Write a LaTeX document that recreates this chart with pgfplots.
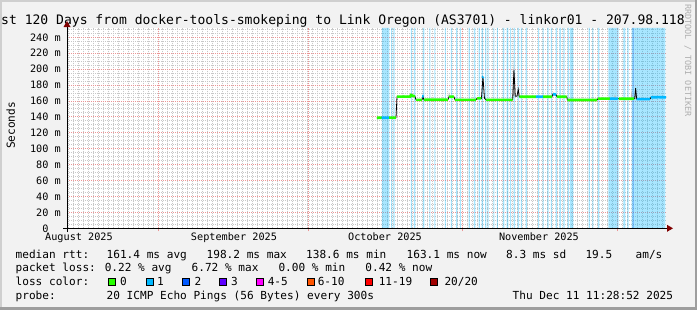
\documentclass[border=0pt]{standalone}
\usepackage{pgfplots}
\pgfplotsset{compat=1.18}
\usepackage{fontspec}
\setmainfont{DejaVu Sans Mono}
\setmonofont{DejaVu Sans Mono}
\definecolor{bgc}{RGB}{242,242,242}
\definecolor{shadea}{RGB}{207,207,207}
\definecolor{shadeb}{RGB}{158,158,158}
\definecolor{lossz}{RGB}{38,255,0}
\definecolor{lossa}{RGB}{0,184,255}
\definecolor{lossb}{RGB}{0,89,255}
\definecolor{lossc}{RGB}{94,0,255}
\definecolor{lossd}{RGB}{255,0,255}
\definecolor{losse}{RGB}{255,85,0}
\definecolor{lossf}{RGB}{255,0,0}
\definecolor{lossg}{RGB}{160,0,0}
\definecolor{mgridc}{RGB}{236,150,150}
\definecolor{gridc}{RGB}{200,200,200}
\definecolor{arrowc}{RGB}{128,0,0}
\definecolor{smoke}{RGB}{185,185,185}
\definecolor{wm}{RGB}{175,175,175}
\newcommand{\lf}{\fontsize{11.1bp}{13bp}\selectfont}
\newcommand{\af}{\fontsize{10.2bp}{12bp}\selectfont}
\newcommand{\tf}{\fontsize{13.05bp}{15bp}\selectfont}
\newcommand{\wf}{\fontsize{8.5bp}{10bp}\selectfont}
\begin{document}
\begin{tikzpicture}
\fill[bgc] (0,0) rectangle (697bp,-310bp);
\fill[shadea] (0,0) rectangle (697bp,-2bp);
\fill[shadea] (0,0) rectangle (2bp,-310bp);
\fill[shadeb] (0,-307bp) rectangle (697bp,-310bp);
\fill[shadeb] (695bp,0) rectangle (697bp,-310bp);
\begin{axis}[
  at={(67bp,-228.3bp)}, anchor=south west,
  scale only axis, width=599bp, height=200.5bp,
  xmin=0, xmax=120, ymin=0, ymax=252,
  axis background/.style={fill=white},
  axis line style={draw=none},
  tick pos=left,
  major tick length=0pt, minor tick length=0pt,
  xtick={2.40,33.45,63.70,94.55},
  xticklabels={August 2025,September 2025,October 2025,November 2025},
  extra x ticks={18.23,48.28,79.33,110.38},
  extra x tick labels={},
  extra x tick style={grid=major, major tick length=3bp, tick align=outside, tick style={mgridc, line width=1bp}},
  minor xtick={0.23,1.23,...,119.23},
  xminorgrids,
  ytick={0,20,...,240},
  yticklabels={0\phantom{mm},20 m,40 m,60 m,80 m,100 m,120 m,140 m,160 m,180 m,200 m,220 m,240 m},
  minor ytick={5,10,...,250},
  ymajorgrids, yminorgrids,
  major grid style={mgridc, line width=1bp, dash pattern=on 1bp off 1bp},
  minor grid style={gridc, line width=1bp, dash pattern=on 1bp off 1bp},
  yticklabel style={font=\af, anchor=east, inner sep=0pt, xshift=-6bp},
  xticklabel style={font=\af, anchor=base, inner sep=0pt, yshift=-12.2bp},
]
% loss bands (1 of 20 lost)
\addplot[const plot, draw=none, fill=lossa, fill opacity=0.34] coordinates {
(60,0)(63.10,252)(64.57,0)(64.91,252)(65.11,0)(65.37,252)(65.65,0)
(68.91,252)(69.11,0)(69.51,252)(69.78,0)(71.31,252)(71.58,0)
(72.58,252)(72.78,0)(73.62,252)(73.82,0)(75.72,252)(75.92,0)
(76.90,252)(77.10,0)(77.93,252)(78.19,0)(78.73,252)(78.93,0)
(80.47,252)(80.73,0)(81.53,252)(81.79,0)(82.47,252)(82.73,0)
(83.08,252)(83.34,0)(83.74,252)(84.00,0)(84.28,252)(84.48,0)
(85.44,252)(85.64,0)(86.14,252)(86.34,0)(87.34,252)(87.60,0)
(88.08,252)(88.40,0)(88.78,252)(88.98,0)(89.49,252)(89.75,0)
(90.29,252)(90.55,0)(90.95,252)(91.15,0)(91.89,252)(92.15,0)
(94.36,252)(94.56,0)(95.30,252)(95.50,0)(96.22,252)(96.50,0)
(96.96,252)(97.16,0)(97.90,252)(98.16,0)(98.62,252)(98.96,0)
(99.42,252)(99.70,0)(100.30,252)(100.56,0)(100.76,252)(101.42,0)
(104.51,252)(104.77,0)(105.23,252)(105.43,0)(106.37,252)(106.63,0)
(108.44,252)(110.52,0)(111.44,252)(111.84,0)(112.24,252)(112.52,0)
(113.12,252)(119.86,0)(120,0)} \closedcycle;
% loss band (2 of 20 lost)
\addplot[const plot, draw=none, fill=lossb, fill opacity=0.25] coordinates {(113.32,252)(113.58,0)} \closedcycle;
% smoke
\addplot[draw=none, fill=smoke, unbounded coords=jump] coordinates {
(76.40,165.4)(76.52,171.6)(76.70,165.4)(76.7,nan)
(89.30,165.0)(89.54,211.5)(89.80,168.0)(89.8,nan)
(90.30,166.0)(90.40,178.0)(90.55,166.0)(90.6,nan)
(97.20,166.0)(97.36,171.5)(97.60,166.0)(97.6,nan)
(109.60,163.0)(109.78,168.8)(110.00,163.0)(110.0,nan)
(112.95,163.0)(113.12,173.7)(113.30,163.0)(113.3,nan)
(113.78,163.0)(113.92,178.5)(114.10,163.0)};
% median (black)
\addplot[black, line width=0.8bp] coordinates {
(62.10,139.0)(63.5,138.7)(64.8,139.2)(65.91,139.0)(66.11,165.4)(67.5,165.6)(68.71,165.4)(68.91,167.5)(69.3,166.5)(69.71,165.8)(69.91,161.5)(71.11,161.5)(71.31,166.0)(71.51,161.5)(74.0,161.6)(76.32,161.5)(76.52,165.4)(77.52,165.4)(77.72,161.5)(80.0,161.5)(81.93,161.5)(82.13,163.3)(83.03,163.3)(83.33,190.5)(83.63,163.5)(83.93,161.5)(86.5,161.4)(89.28,161.5)(89.54,198.9)(89.80,166.0)(90.14,166.0)(90.40,174.5)(90.60,165.4)(93.95,165.4)(95.35,165.4)(97.16,165.4)(97.36,168.8)(97.96,168.0)(98.16,165.4)(100.10,165.4)(100.26,161.2)(103.0,161.2)(106.17,161.2)(106.37,162.9)(109.0,162.9)(111.0,162.8)(113.72,162.9)(113.92,176.0)(114.12,162.4)(116.79,162.4)(116.99,164.6)(118.5,164.8)(120,164.6)};
% median, 0 lost
\addplot[lossz, line width=2.6bp, unbounded coords=jump] coordinates {
(62.10,139.0)(63.05,138.9)(63.1,nan)
(64.50,139.1)(65.91,139.0)(65.9,nan)
(66.11,165.4)(67.5,165.6)(68.71,165.4)(68.91,167.5)(69.3,166.5)(69.71,165.8)(69.8,nan)
(69.91,161.5)(71.11,161.5)(71.2,nan)
(71.51,161.5)(74.0,161.6)(76.32,161.5)(76.4,nan)
(76.52,165.4)(77.52,165.4)(77.6,nan)
(77.72,161.5)(81.93,161.5)(82.0,nan)
(82.13,163.3)(83.03,163.3)(83.1,nan)
(83.93,161.5)(86.5,161.4)(89.28,161.5)(89.3,nan)
(90.60,165.4)(93.95,165.4)(94.0,nan)
(95.35,165.4)(97.16,165.4)(97.2,nan)
(98.16,165.4)(100.10,165.4)(100.2,nan)
(100.26,161.2)(103.0,161.2)(106.17,161.2)(106.2,nan)
(106.37,162.9)(108.77,162.9)(108.8,nan)
(110.58,162.9)(111.0,162.8)(113.6,162.9)};
% median, 1 lost
\addplot[lossa, line width=2.6bp, unbounded coords=jump] coordinates {
(63.05,138.9)(64.50,139.1)(64.6,nan)
(71.15,166.0)(71.45,166.0)(71.5,nan)
(83.23,189.5)(83.43,190.5)(83.5,nan)
(93.95,165.4)(95.35,165.4)(95.4,nan)
(97.36,168.8)(97.96,168.0)(98.0,nan)
(108.77,162.9)(110.38,162.9)(110.4,nan)
(114.12,162.4)(116.79,162.4)(116.8,nan)
(116.99,164.6)(118.5,164.8)(120,164.6)};
\end{axis}
\begin{scope}[x=1bp,y=-1bp]
\node[rotate=-90, anchor=west, inner sep=0pt, text=wm, font=\wf] at (688,4) {RRDTOOL / TOBI OETIKER};
\node[anchor=base west, inner sep=0pt, font=\tf] at (1,24) {st 120 Days from docker-tools-smokeping to Link Oregon (AS3701) - linkor01 - 207.98.118};
\node[rotate=90, inner sep=0pt, font=\lf] at (10.8,125.5) {Seconds};
% axes
\draw[line width=1bp] (63,228.3) -- (668,228.3);
\fill[arrowc] (667,224.8) -- (673,228.3) -- (667,231.8) -- cycle;
\draw[line width=1bp] (67,231.5) -- (67,26);
\fill[arrowc] (63.5,27) -- (67,21) -- (70.5,27) -- cycle;
% legend
\begin{scope}[every node/.style={anchor=base west, inner sep=0pt, font=\lf}]
\node at (15.5,258) {median rtt:};
\node at (106.5,258) {161.4 ms avg};
\node at (206.5,258) {198.2 ms max};
\node at (306,258) {138.6 ms min};
\node at (406.5,258) {163.1 ms now};
\node at (506,258) {8.3 ms sd};
\node at (585.3,258) {19.5};
\node at (635.5,258) {am/s};
\node at (15.5,271.7) {packet loss: 0.22 \% avg~~~6.72 \% max~~~0.00 \% min~~~0.42 \% now};
\node at (15.5,285.3) {loss color:};
\node at (120,285.3) {0};
\node at (157,285.3) {1};
\node at (194.3,285.3) {2};
\node at (231,285.3) {3};
\node at (267.6,285.3) {4-5};
\node at (317.6,285.3) {6-10};
\node at (378.6,285.3) {11-19};
\node at (444.3,285.3) {20/20};
\node at (15.5,299.7) {probe:};
\node at (106.5,299.7) {20 ICMP Echo Pings (56 Bytes) every 300s};
\node at (512.5,299.7) {Thu Dec 11 11:28:52 2025};
\end{scope}
\foreach \bx/\bc in {108.8/lossz,146.2/lossa,182.8/lossb,219.8/lossc,256.5/lossd,307.2/losse,365.5/lossf,430.8/lossg}{
  \filldraw[fill=\bc, draw=black, line width=1bp] (\bx,278.5) rectangle ({\bx+7},285.5);
}
\end{scope}
\pgfresetboundingbox
\path (0,0) rectangle (697bp,-310bp);
\end{tikzpicture}
\end{document}
